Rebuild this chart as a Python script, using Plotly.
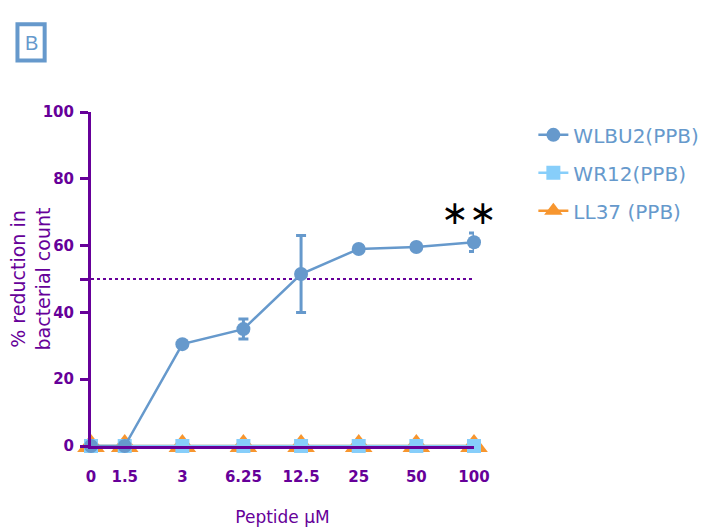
import plotly.graph_objects as go

# Data
conc_labels = ["0", "1.5", "3", "6.25", "12.5", "25", "50", "100"]
x_pos = [1, 1.5, 3, 6.25, 12.5, 25, 50, 100]  # log-axis plotting position ("0" drawn at 1)
wlbu2 = [0, 0, 30.5, 35, 51.5, 59, 59.6, 61]
wlbu2_err = [0, 0, 0.8, 3, 11.5, 0.8, 0.8, 2.8]
wr12 = [0, 0, 0, 0, 0, 0, 0, 0]
ll37 = [0, 0, 0, 0, 0, 0, 0, 0]
y_ticks = [0, 20, 40, 50, 60, 80, 100]
y_ticktext = ["0", "20", "40", "", "60", "80", "100"]

PURPLE = "#660099"
BLUE = "#6699cc"
LBLUE = "#87cefa"
ORANGE = "#f7962f"
WIDE = "DejaVu Sans, Verdana, sans-serif"

fig = go.Figure()

# reference line at 50%
fig.add_trace(go.Scatter(
    x=[x_pos[0], x_pos[-1]], y=[50, 50], mode="lines",
    line=dict(color=PURPLE, width=2, dash="dot"),
    showlegend=False, hoverinfo="skip", cliponaxis=False))

fig.add_trace(go.Scatter(
    x=x_pos, y=ll37, name="LL37 (PPB)", mode="lines+markers",
    line=dict(color=ORANGE, width=2.5),
    marker=dict(symbol="triangle-up", size=24, color=ORANGE),
    legendrank=3, legendgroup="c", cliponaxis=False))

fig.add_trace(go.Scatter(
    x=x_pos, y=wr12, name="WR12(PPB)", mode="lines+markers",
    line=dict(color=LBLUE, width=2.5),
    marker=dict(symbol="square", size=14, color=LBLUE),
    legendrank=2, legendgroup="b", cliponaxis=False))

fig.add_trace(go.Scatter(
    x=x_pos, y=wlbu2, name="WLBU2(PPB)", mode="lines+markers",
    line=dict(color=BLUE, width=2.5),
    marker=dict(symbol="circle", size=14, color=BLUE),
    error_y=dict(type="data", array=wlbu2_err, visible=True,
                 color=BLUE, thickness=3, width=5),
    legendrank=1, legendgroup="a", cliponaxis=False))

fig.update_layout(
    width=700, height=521,
    margin=dict(l=83, r=234, t=104, b=83, autoexpand=False),
    plot_bgcolor="white", paper_bgcolor="white",
    font=dict(family="Arial, Liberation Sans, sans-serif", color=PURPLE),
    showlegend=True,
    legend=dict(x=1.155, y=0.99, xanchor="left", yanchor="top",
                font=dict(size=20, color=BLUE, family=WIDE),
                itemsizing="trace", tracegroupgap=9,
                bgcolor="rgba(0,0,0,0)"),
    xaxis=dict(type="log", range=[0, 2], tickvals=x_pos, ticktext=conc_labels,
               showgrid=False, zeroline=False, showline=True,
               linecolor=PURPLE, linewidth=3, ticks="",
               ticklabelstandoff=15,
               tickfont=dict(size=15, color=PURPLE, family=WIDE, weight="bold"),
               title=dict(text="Peptide µM", font=dict(size=17, color=PURPLE, family=WIDE), standoff=27)),
    yaxis=dict(range=[0, 100], tickvals=y_ticks, ticktext=y_ticktext,
               showgrid=False, zeroline=False, showline=True,
               linecolor=PURPLE, linewidth=3, ticks="outside", ticklen=8,
               tickwidth=3, tickcolor=PURPLE, ticklabelstandoff=3,
               tickfont=dict(size=15, color=PURPLE, family=WIDE, weight="bold")),
)

# y-axis title
fig.add_annotation(xref="paper", yref="paper", x=-0.158, y=0.5,
                   xanchor="center", yanchor="middle", textangle=-90,
                   text="% reduction in<br>bacterial count", showarrow=False,
                   font=dict(size=19, color=PURPLE, family=WIDE))

# Panel label "B" in a box
fig.add_shape(type="rect", xref="paper", yref="paper",
              x0=-0.192, x1=-0.121, y0=1.154, y1=1.263,
              line=dict(color=BLUE, width=4))
fig.add_annotation(xref="paper", yref="paper", x=-0.1565, y=1.208,
                   xanchor="center", yanchor="middle",
                   text="B", showarrow=False,
                   font=dict(size=20, color=BLUE))

# significance stars (x in log10 units on the log axis)
fig.add_annotation(x=1.972, y=70, xref="x", yref="y", text="∗∗",
                   showarrow=False, xanchor="center", yanchor="middle",
                   font=dict(size=33, color="black"))

fig.write_html("out.html")
